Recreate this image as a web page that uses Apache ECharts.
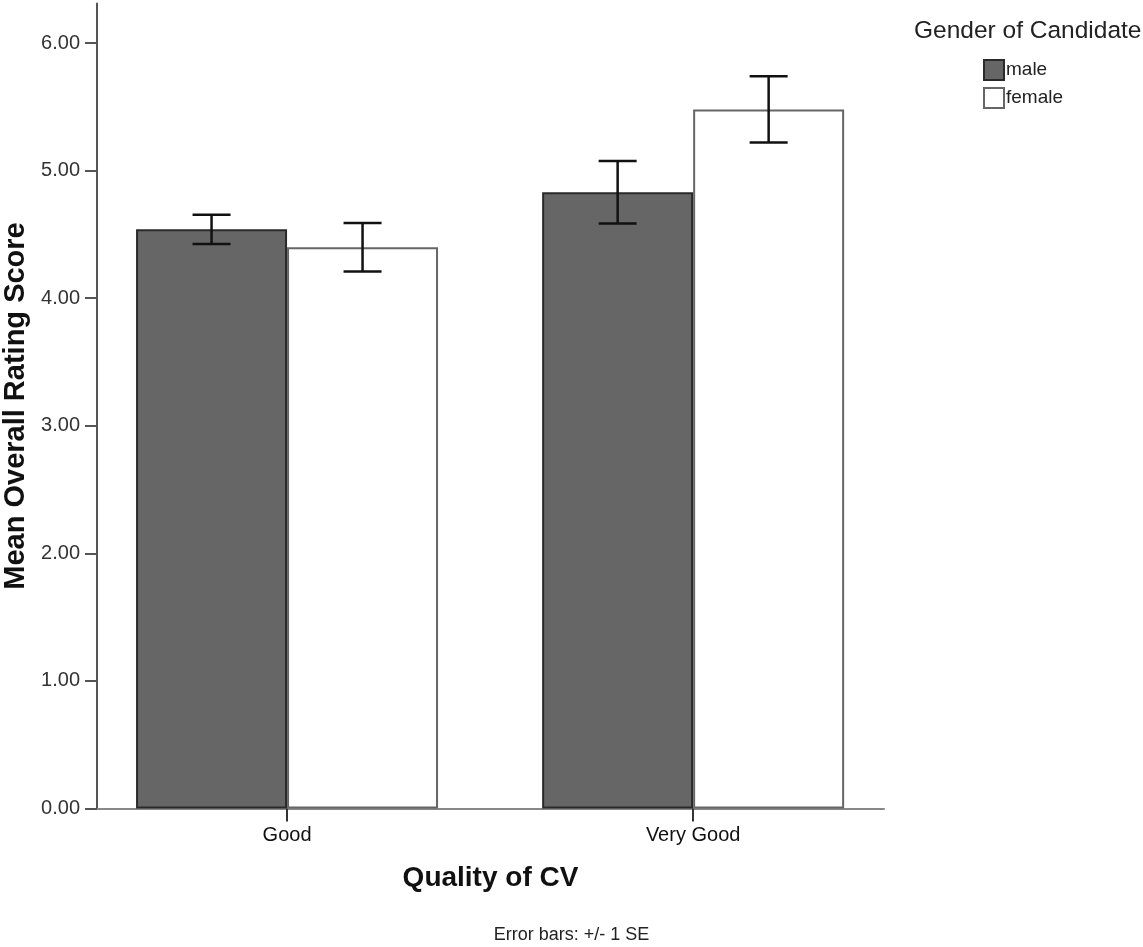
<!DOCTYPE html>
<html>
<head>
<meta charset="utf-8">
<script src="https://cdn.jsdelivr.net/npm/echarts@6/dist/echarts.min.js"></script>
<style>
  html, body { margin: 0; padding: 0; background: #fff; }
  #chart { width: 1143px; height: 947px; }
</style>
</head>
<body>
<div id="chart"></div>
<script>
// data
const categories = ['Good', 'Very Good']
const seriesNames = ['male', 'female']
const maleMeans = [4.54, 4.83]
const femaleMeans = [4.40, 5.48]
const maleSE = [0.115, 0.245]
const femaleSE = [0.19, 0.26]
const yTicks = [0, 1, 2, 3, 4, 5, 6]

const FONT = '"Liberation Sans", Arial, sans-serif'
const BAR_W = 151

const catIdx = categories.map((c, i) => i)

function errData(means, se) {
  return means.map((m, i) => [i, m - se[i], m + se[i]])
}

// error bar drawn on the same axes, shifted to its bar
function errRenderer(shift) {
  return function (params, api) {
    const x = api.value(0)
    const lo = api.coord([x, api.value(1)])
    const hi = api.coord([x, api.value(2)])
    const cx = lo[0] + shift * BAR_W
    const half = 19
    const style = { stroke: '#111', lineWidth: 2.5 }
    return {
      type: 'group',
      children: [
        { type: 'line', shape: { x1: cx, y1: hi[1], x2: cx, y2: lo[1] }, style },
        { type: 'line', shape: { x1: cx - half, y1: hi[1], x2: cx + half, y2: hi[1] }, style },
        { type: 'line', shape: { x1: cx - half, y1: lo[1], x2: cx + half, y2: lo[1] }, style },
      ],
    }
  }
}

const myChart = echarts.init(document.getElementById('chart'))
const option = {
  animation: false,
  backgroundColor: '#fff',
  textStyle: { fontFamily: FONT },
  title: [
    {
      text: 'Gender of Candidate',
      left: 914,
      top: 19,
      padding: 0,
      textStyle: { fontSize: 24.5, fontWeight: 'normal', color: '#222', fontFamily: FONT },
    },
    {
      text: 'Error bars: +/- 1 SE',
      left: 'center',
      top: 926,
      padding: 0,
      textStyle: { fontSize: 18, fontWeight: 'normal', color: '#222', fontFamily: FONT },
    },
  ],
  legend: {
    data: seriesNames,
    orient: 'vertical',
    left: 983,
    top: 59,
    padding: 0,
    itemWidth: 20,
    itemHeight: 20,
    itemGap: 6,
    icon: 'rect',
    selectedMode: false,
    textStyle: { fontSize: 19, color: '#222', fontFamily: FONT, padding: [0, 0, 0, -3] },
  },
  grid: {
    left: 97,
    right: 1143 - 884,
    top: 3.5,
    bottom: 947 - 808.5,
    outerBoundsMode: 'none',
  },
  xAxis: {
    type: 'value',
    min: -0.468,
    max: 1.47,
    name: 'Quality of CV',
    nameLocation: 'middle',
    nameGap: 56,
    nameTextStyle: { fontSize: 28, fontWeight: 'bold', color: '#111', fontFamily: FONT },
    axisLine: { onZero: false, lineStyle: { color: '#888', width: 2 } },
    axisTick: { show: true, length: 13, customValues: catIdx, lineStyle: { color: '#333', width: 2 } },
    axisLabel: {
      customValues: catIdx,
      margin: 17,
      fontSize: 20,
      color: '#111',
      fontFamily: FONT,
      formatter: (v) => categories[Math.round(v)],
    },
    splitLine: { show: false },
  },
  yAxis: {
    type: 'value',
    min: 0,
    max: 6.31,
    name: 'Mean Overall Rating Score',
    nameLocation: 'middle',
    nameGap: 59,
    nameTextStyle: { fontSize: 29, fontWeight: 'bold', color: '#111', fontFamily: FONT },
    axisLine: { show: true, onZero: false, lineStyle: { color: '#555', width: 2 } },
    axisTick: { show: true, length: 12, customValues: yTicks, lineStyle: { color: '#555', width: 2 } },
    axisLabel: {
      customValues: yTicks,
      margin: 17,
      fontSize: 20,
      color: '#333',
      fontFamily: FONT,
      formatter: (v) => v.toFixed(2),
    },
    splitLine: { show: false },
  },
  series: [
    {
      name: 'male',
      type: 'bar',
      barWidth: BAR_W,
      barGap: '0%',
      data: catIdx.map((i) => [i, maleMeans[i]]),
      itemStyle: { color: '#666666', borderColor: '#2a2a2a', borderWidth: 2 },
    },
    {
      name: 'female',
      type: 'bar',
      barWidth: BAR_W,
      barGap: '0%',
      data: catIdx.map((i) => [i, femaleMeans[i]]),
      itemStyle: { color: '#ffffff', borderColor: '#666666', borderWidth: 2 },
    },
    {
      name: 'male SE',
      type: 'custom',
      z: 5,
      renderItem: errRenderer(-0.5),
      encode: { x: 0, y: [1, 2] },
      data: errData(maleMeans, maleSE),
    },
    {
      name: 'female SE',
      type: 'custom',
      z: 5,
      renderItem: errRenderer(0.5),
      encode: { x: 0, y: [1, 2] },
      data: errData(femaleMeans, femaleSE),
    },
  ],
}
myChart.setOption(option)
</script>
</body>
</html>
